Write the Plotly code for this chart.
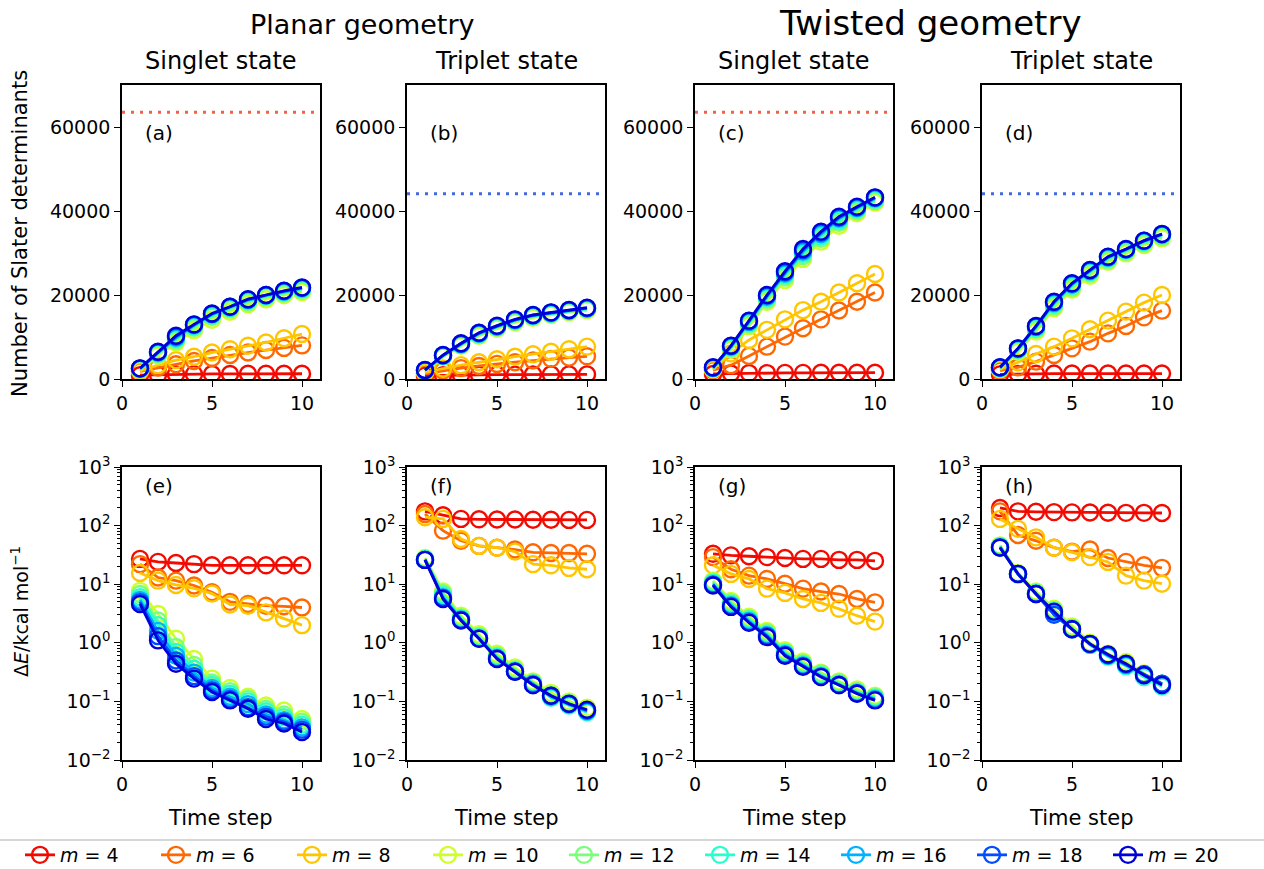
import plotly.graph_objects as go

# ---------------- data ----------------
steps = [1, 2, 3, 4, 5, 6, 7, 8, 9, 10]
m_values = [4, 6, 8, 10, 12, 14, 16, 18, 20]
colors = ["#f30900", "#ff6800", "#ffc600", "#ceff29", "#7bff7b",
          "#29ffce", "#00b3ff", "#004dff", "#0000d8"]

# Number of Slater determinants (top row)
dets_a = {
    4: [900, 1000, 1100, 1150, 1200, 1200, 1250, 1250, 1250, 1250],
    6: [1800, 2700, 3500, 4300, 5000, 5700, 6300, 6900, 7400, 8000],
    8: [1900, 3300, 4500, 5300, 6300, 7100, 7900, 8700, 9700, 10700],
    10: [2200, 5600, 8700, 11600, 14100, 16000, 17800, 19000, 20000, 20700],
    12: [2300, 5900, 9200, 12200, 14800, 16600, 18300, 19500, 20400, 21100],
    14: [2400, 6100, 9500, 12500, 15100, 16900, 18600, 19700, 20600, 21400],
    16: [2450, 6300, 9800, 12800, 15400, 17100, 18800, 19900, 20800, 21600],
    18: [2500, 6400, 10100, 12900, 15500, 17200, 18950, 20000, 20950, 21700],
    20: [2540, 6500, 10300, 13000, 15600, 17200, 19000, 20000, 21000, 21800],
}
dets_b = {
    4: [800, 900, 950, 1000, 1050, 1050, 1100, 1100, 1100, 1100],
    6: [1300, 2000, 2600, 3100, 3600, 4000, 4400, 4800, 5100, 5400],
    8: [1500, 2500, 3300, 4000, 4700, 5300, 5900, 6500, 7100, 7700],
    10: [1900, 5300, 7900, 10300, 12000, 13500, 14600, 15300, 15900, 16400],
    12: [2000, 5400, 8100, 10500, 12200, 13700, 14800, 15500, 16100, 16600],
    14: [2050, 5500, 8200, 10700, 12400, 13900, 15000, 15600, 16200, 16700],
    16: [2100, 5600, 8300, 10800, 12500, 14000, 15100, 15700, 16300, 16800],
    18: [2100, 5650, 8400, 10950, 12600, 14100, 15200, 15800, 16400, 16900],
    20: [2140, 5700, 8500, 11000, 12700, 14200, 15240, 15870, 16430, 16990],
}
dets_c = {
    4: [1200, 1300, 1400, 1400, 1450, 1450, 1500, 1500, 1500, 1500],
    6: [2100, 3300, 5500, 7700, 10100, 12100, 14200, 16300, 18400, 20600],
    8: [2300, 6100, 9300, 11700, 14200, 16400, 18400, 20600, 22800, 25000],
    10: [2400, 7000, 12600, 18400, 23600, 28600, 32700, 36500, 39500, 42000],
    12: [2500, 7300, 13000, 18900, 24200, 29300, 33400, 37200, 40000, 42400],
    14: [2600, 7500, 13300, 19300, 24700, 29800, 34000, 37700, 40400, 42700],
    16: [2650, 7700, 13600, 19600, 25100, 30300, 34500, 38200, 40700, 43000],
    18: [2700, 7850, 13800, 19850, 25400, 30700, 34850, 38450, 40900, 43150],
    20: [2780, 7940, 13890, 20000, 25640, 30950, 35080, 38650, 41030, 43250],
}
dets_d = {
    4: [1100, 1200, 1250, 1300, 1300, 1300, 1300, 1300, 1300, 1300],
    6: [1980, 2780, 4130, 5710, 7300, 8890, 10870, 12620, 14680, 16270],
    8: [2300, 3970, 5950, 7700, 9680, 11830, 13890, 16030, 18180, 20000],
    10: [2400, 6500, 11300, 16900, 21300, 24600, 27900, 29900, 31900, 33500],
    12: [2500, 6800, 11800, 17400, 21800, 25100, 28300, 30300, 32300, 33900],
    14: [2600, 7000, 12100, 17800, 22200, 25500, 28700, 30600, 32600, 34200],
    16: [2700, 7150, 12400, 18100, 22500, 25700, 28900, 30800, 32800, 34400],
    18: [2750, 7250, 12550, 18300, 22700, 25900, 29050, 30900, 32900, 34500],
    20: [2780, 7300, 12620, 18410, 22780, 25950, 29130, 30950, 32940, 34530],
}
# Energy error, kcal/mol (bottom row)
err_e = {
    4: [27, 24, 23, 22, 21, 21, 21, 21, 21, 21],
    6: [22, 13, 11.5, 9.5, 7.3, 5.0, 4.6, 4.3, 4.2, 4.0],
    8: [15.5, 11.5, 9.7, 8.5, 6.9, 4.5, 4.3, 3.3, 2.6, 2.0],
    10: [7.7, 3.1, 1.17, 0.53, 0.245, 0.17, 0.12, 0.085, 0.07, 0.05],
    12: [6.8, 2.4, 0.85, 0.42, 0.21, 0.15, 0.11, 0.075, 0.06, 0.045],
    14: [6.0, 2.0, 0.7, 0.36, 0.19, 0.135, 0.1, 0.068, 0.054, 0.04],
    16: [5.4, 1.6, 0.6, 0.31, 0.17, 0.12, 0.09, 0.06, 0.048, 0.036],
    18: [5.0, 1.3, 0.5, 0.27, 0.155, 0.11, 0.08, 0.055, 0.045, 0.033],
    20: [4.6, 1.1, 0.44, 0.245, 0.145, 0.104, 0.075, 0.05, 0.042, 0.030],
}
err_f = {
    4: [175, 150, 130, 128, 127, 127, 126, 126, 125, 125],
    6: [158, 82, 55, 45, 42, 39, 35, 34, 34, 33],
    8: [139, 130, 59, 45, 42, 36, 22, 21, 19, 18],
    10: [28, 7.5, 2.9, 1.4, 0.65, 0.38, 0.22, 0.14, 0.1, 0.078],
    12: [27, 7.0, 2.7, 1.3, 0.6, 0.35, 0.21, 0.13, 0.095, 0.07],
    14: [27, 6.5, 2.6, 1.25, 0.58, 0.33, 0.2, 0.115, 0.085, 0.065],
    16: [26, 6.0, 2.5, 1.2, 0.55, 0.33, 0.2, 0.12, 0.09, 0.068],
    18: [26, 5.8, 2.45, 1.18, 0.54, 0.32, 0.19, 0.125, 0.09, 0.07],
    20: [26, 5.6, 2.4, 1.17, 0.53, 0.32, 0.19, 0.125, 0.091, 0.072],
}
err_g = {
    4: [33, 31, 30, 29, 28, 27, 27, 26, 26, 25],
    6: [29, 18, 14, 12.3, 10.2, 8.4, 7.5, 6.8, 5.6, 4.9],
    8: [21, 15, 12.3, 8.4, 7.1, 5.6, 4.8, 3.8, 2.9, 2.3],
    10: [11.5, 5.2, 2.8, 1.6, 0.75, 0.48, 0.31, 0.22, 0.16, 0.125],
    12: [11, 4.9, 2.6, 1.5, 0.7, 0.45, 0.3, 0.21, 0.15, 0.12],
    14: [10.5, 4.6, 2.5, 1.4, 0.68, 0.43, 0.28, 0.2, 0.145, 0.115],
    16: [10, 4.4, 2.35, 1.35, 0.64, 0.41, 0.27, 0.195, 0.14, 0.11],
    18: [9.8, 4.2, 2.25, 1.3, 0.62, 0.4, 0.265, 0.19, 0.138, 0.106],
    20: [9.5, 4.1, 2.2, 1.25, 0.6, 0.39, 0.26, 0.19, 0.135, 0.104],
}
err_h = {
    4: [200, 175, 172, 170, 168, 167, 166, 165, 165, 164],
    6: [175, 69, 55, 42, 36, 39, 28, 24, 21, 19],
    8: [130, 88, 63, 42, 35, 29, 24, 14, 11.5, 10.2],
    10: [46, 15.5, 7.5, 3.8, 1.9, 1.0, 0.65, 0.47, 0.3, 0.2],
    12: [45, 15, 7.2, 3.6, 1.8, 0.95, 0.62, 0.42, 0.27, 0.19],
    14: [44, 14.5, 7.0, 3.5, 1.75, 0.92, 0.58, 0.4, 0.26, 0.18],
    16: [43, 15, 6.9, 3.2, 1.72, 0.94, 0.6, 0.42, 0.29, 0.2],
    18: [42.5, 15, 6.8, 3.0, 1.7, 0.95, 0.62, 0.43, 0.29, 0.2],
    20: [42, 15, 6.8, 3.4, 1.7, 0.96, 0.63, 0.44, 0.28, 0.19],
}

# full-space sizes (dotted reference lines)
fci_singlet = 63504
fci_triplet = 44100

panel_labels = ["(a)", "(b)", "(c)", "(d)", "(e)", "(f)", "(g)", "(h)"]
state_titles = ["Singlet state", "Triplet state", "Singlet state", "Triplet state"]
geom_titles = ["Planar geometry", "Twisted geometry"]
det_ticks = [0, 20000, 40000, 60000]
x_ticks = [0, 5, 10]
log_ticks = [0.01, 0.1, 1, 10, 100, 1000]
log_ticktext = ["10<sup>\u22122</sup>", "10<sup>\u22121</sup>", "10<sup>0</sup>",
                "10<sup>1</sup>", "10<sup>2</sup>", "10<sup>3</sup>"]

# ---------------- layout geometry (pixels) ----------------
W, H = 1264, 869
col_px = [(122, 320), (407, 605), (695, 893), (982, 1180)]
row_px = [(85, 379), (467, 760)]
FONT = "DejaVu Sans"


def fx(px):
    return px / W


def fy(py):
    return 1 - py / H


fig = go.Figure()
top_data = [dets_a, dets_b, dets_c, dets_d]
bot_data = [err_e, err_f, err_g, err_h]
ref_lines = [fci_singlet, fci_triplet, fci_singlet, fci_triplet]
ref_colors = ["#f2604a", "#4169e1", "#f2604a", "#4169e1"]

minor_vals = [k * 10 ** e for e in range(-2, 3) for k in range(2, 10)]

for p in range(8):
    ax = p + 1
    xa = "x" if ax == 1 else f"x{ax}"
    ya = "y" if ax == 1 else f"y{ax}"
    col = p % 4
    row = p // 4
    data = top_data[col] if row == 0 else bot_data[col]
    if row == 0:
        fig.add_trace(go.Scatter(
            x=[0, 11], y=[ref_lines[col], ref_lines[col]], mode="lines",
            line=dict(color=ref_colors[col], width=3, dash="3px,6px"),
            showlegend=False, xaxis=xa, yaxis=ya, hoverinfo="skip"))
    for i, m in enumerate(m_values):
        fig.add_trace(go.Scatter(
            x=steps, y=data[m], mode="lines+markers",
            name=f"<i>m</i> = {m}", legendgroup=str(m),
            showlegend=(p == 0),
            line=dict(color=colors[i], width=2.8),
            marker=dict(symbol="circle-open", size=16, color=colors[i],
                        line=dict(color=colors[i], width=2.4)),
            xaxis=xa, yaxis=ya))

    x0, x1 = col_px[col]
    y0, y1 = row_px[row]
    xkey = "xaxis" if ax == 1 else f"xaxis{ax}"
    ykey = "yaxis" if ax == 1 else f"yaxis{ax}"
    common = dict(showline=True, linecolor="black", linewidth=1.6, mirror=True,
                  ticks="outside", ticklen=6, tickwidth=1.4, tickcolor="black",
                  showgrid=False, zeroline=False, automargin=False,
                  tickfont=dict(family=FONT, size=19, color="black"))
    fig.update_layout(**{
        xkey: dict(domain=[fx(x0), fx(x1)], range=[0, 11], anchor=ya,
                   tickvals=x_ticks, ticktext=[str(v) for v in x_ticks], **common),
    })
    if row == 0:
        fig.update_layout(**{
            ykey: dict(domain=[fy(y1), fy(y0)], range=[0, 70000], anchor=xa,
                       tickvals=det_ticks, ticktext=[str(v) for v in det_ticks], **common)
        })
    else:
        fig.update_layout(**{
            ykey: dict(domain=[fy(y1), fy(y0)], type="log", range=[-2, 3], anchor=xa,
                       tickvals=log_ticks, ticktext=log_ticktext,
                       minor=dict(ticks="outside", ticklen=3, tickwidth=1,
                                  tickcolor="black", tickvals=minor_vals, showgrid=False),
                       **common)
        })

    # panel label
    ly = 133 if row == 0 else 486
    fig.add_annotation(x=fx(x0 + 21), y=fy(ly), xref="paper", yref="paper",
                       text=panel_labels[p], showarrow=False, xanchor="left",
                       yanchor="middle", font=dict(family=FONT, size=20, color="black"))

# state titles and x-axis titles
for c in range(4):
    x0, x1 = col_px[c]
    fig.add_annotation(x=fx((x0 + x1) / 2), y=fy(61), xref="paper", yref="paper",
                       text=state_titles[c], showarrow=False, xanchor="center",
                       yanchor="middle", font=dict(family=FONT, size=24, color="black"))
    fig.add_annotation(x=fx((x0 + x1) / 2), y=fy(818), xref="paper", yref="paper",
                       text="Time step", showarrow=False, xanchor="center",
                       yanchor="middle", font=dict(family=FONT, size=21, color="black"))

fig.add_annotation(x=fx(362), y=fy(25), xref="paper", yref="paper", text=geom_titles[0],
                   showarrow=False, xanchor="center", yanchor="middle",
                   font=dict(family=FONT, size=27, color="black"))
fig.add_annotation(x=fx(930), y=fy(23), xref="paper", yref="paper", text=geom_titles[1],
                   showarrow=False, xanchor="center", yanchor="middle",
                   font=dict(family=FONT, size=34, color="black"))

# y-axis titles
fig.add_annotation(x=fx(20), y=fy(234), xref="paper", yref="paper",
                   text="Number of Slater determinants", textangle=-90, showarrow=False,
                   xanchor="center", yanchor="middle",
                   font=dict(family=FONT, size=21, color="black"))
fig.add_annotation(x=fx(20), y=fy(612), xref="paper", yref="paper",
                   text="\u0394<i>E</i>/kcal mol<sup>\u22121</sup>", textangle=-90,
                   showarrow=False, xanchor="center", yanchor="middle",
                   font=dict(family=FONT, size=19, color="black"))

# legend frame top edge
fig.add_shape(type="line", xref="paper", yref="paper", x0=0, x1=1,
              y0=fy(840), y1=fy(840), line=dict(color="#d6d6d6", width=2))

fig.update_layout(
    width=W, height=H,
    margin=dict(l=0, r=0, t=0, b=0, pad=0, autoexpand=False),
    paper_bgcolor="white", plot_bgcolor="white",
    font=dict(family=FONT, color="black"),
    showlegend=True,
    legend=dict(orientation="h", x=0.5, xanchor="center", y=fy(855), yanchor="middle",
                font=dict(family=FONT, size=19, color="black"),
                bgcolor="rgba(0,0,0,0)", itemwidth=30, tracegroupgap=0,
                entrywidth=91, entrywidthmode="pixels"),
)

fig.write_html("out.html")
